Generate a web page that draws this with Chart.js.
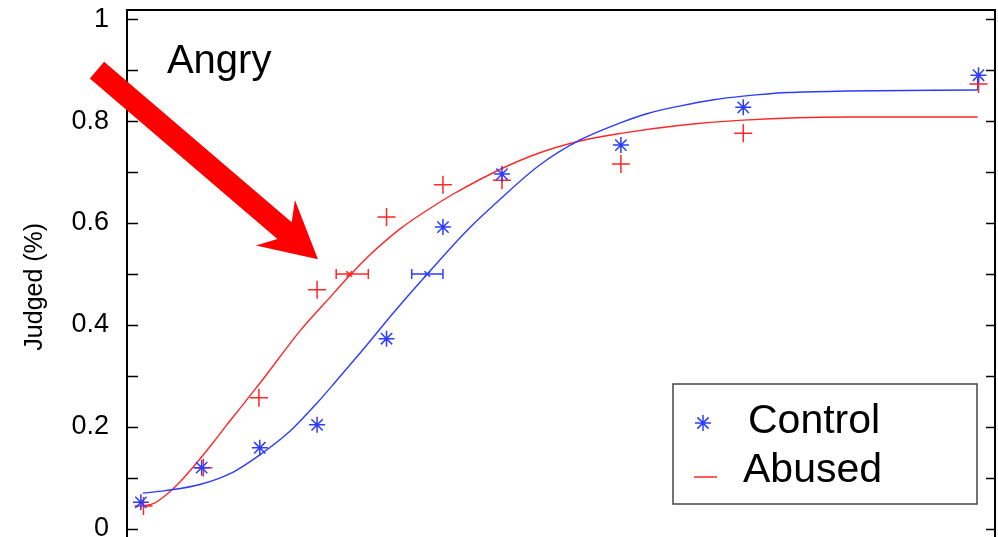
<!DOCTYPE html>
<html>
<head>
<meta charset="utf-8">
<title>Angry - Judged</title>
<script src="https://cdn.jsdelivr.net/npm/chart.js@4.4.1/dist/chart.umd.min.js"></script>
<style>
html,body{margin:0;padding:0;background:#fff;}
#wrap{width:998px;height:537px;}
</style>
</head>
<body>
<div id="wrap"><canvas id="c" width="998" height="537"></canvas></div>
<script>
// x is in arbitrary morph units (0..100 across the frame), y is proportion judged
var ctrlX = [1.6, 8.6, 15.3, 21.9, 29.9, 36.4, 43.2, 56.9, 71.0, 98.1];
var ctrlY = [0.052, 0.12, 0.159, 0.204, 0.373, 0.592, 0.696, 0.753, 0.827, 0.89];
var abusX = [1.9, 8.8, 15.2, 21.9, 29.9, 36.4, 43.2, 56.9, 71.0, 98.1];
var abusY = [0.045, 0.12, 0.257, 0.469, 0.612, 0.675, 0.684, 0.716, 0.776, 0.873];

// fitted curves
var ctrlFitX = [1.8, 4.4, 8.4, 12.3, 15.3, 18.8, 21.9, 24.2, 27.2, 30.7, 34.6, 39.2, 43.0, 47.4, 52.2, 56.9, 60.0, 63.8, 67.6, 71.0, 76.1, 83.0, 98.0];
var ctrlFitY = [0.07, 0.075, 0.087, 0.112, 0.145, 0.192, 0.247, 0.292, 0.352, 0.424, 0.5, 0.586, 0.647, 0.712, 0.763, 0.797, 0.815, 0.83, 0.842, 0.849, 0.856, 0.859, 0.861];
var abusFitX = [1.9, 3.1, 4.6, 6.1, 8.1, 10.0, 11.5, 13.0, 14.2, 15.6, 20.0, 23.8, 25.6, 27.7, 31.5, 35.3, 37.6, 43.2, 47.4, 52.2, 56.9, 63.8, 71.0, 83.0, 98.0];
var abusFitY = [0.045, 0.05, 0.068, 0.092, 0.131, 0.171, 0.204, 0.236, 0.262, 0.292, 0.39, 0.462, 0.496, 0.533, 0.589, 0.633, 0.657, 0.707, 0.737, 0.761, 0.776, 0.792, 0.802, 0.808, 0.808];
// little vertical step at the end of the control fit
var ctrlEndX = [98.0, 98.0];
var ctrlEndY = [0.861, 0.885];

// horizontal error bars at the 50% point (control, abused)
var errCenter = [34.6, 25.6];
var errLow = [32.8, 24.1];
var errHigh = [36.4, 27.8];
var errLevel = [0.5, 0.5];

var yTickValues = [0, 0.1, 0.2, 0.3, 0.4, 0.5, 0.6, 0.7, 0.8, 0.9, 1];
var yTickLabels = ['0', '', '0.2', '', '0.4', '', '0.6', '', '0.8', '', '1'];
var yTitle = 'Judged (%)';

// arrow from tail to tip, and the panel label, in data units
var arrowTail = [-3.46, 0.9];
var arrowTip = [22.0, 0.529];
var panelLabel = 'Angry';
var panelPos = [4.6, 0.894];

var BLUE = '#2b3cff';
var RED = '#ff2626';
var FONT = '"Liberation Sans", Arial, sans-serif';

function pts(xs, ys){
  var out = [];
  for (var i = 0; i < xs.length; i++) out.push({x: xs[i], y: ys[i]});
  return out;
}

var extras = {
  id: 'extras',
  afterDatasetsDraw: function(chart){
    var ctx = chart.ctx, xs = chart.scales.x, ys = chart.scales.y;
    var cols = [BLUE, RED];
    ctx.save();
    ctx.lineWidth = 1.5;
    for (var i = 0; i < errCenter.length; i++){
      var py = ys.getPixelForValue(errLevel[i]);
      var x1 = xs.getPixelForValue(errLow[i]), x2 = xs.getPixelForValue(errHigh[i]);
      ctx.strokeStyle = cols[i];
      ctx.beginPath();
      ctx.moveTo(x1, py); ctx.lineTo(x2, py);
      ctx.moveTo(x1, py - 5); ctx.lineTo(x1, py + 5);
      ctx.moveTo(x2, py - 5); ctx.lineTo(x2, py + 5);
      ctx.stroke();
    }
    ctx.restore();
  },
  afterDraw: function(chart){
    var ctx = chart.ctx, a = chart.chartArea, xs = chart.scales.x, ys = chart.scales.y;
    ctx.save();
    // frame top and right
    ctx.strokeStyle = '#000';
    ctx.lineWidth = 2;
    ctx.beginPath();
    ctx.moveTo(a.left, a.top); ctx.lineTo(a.right, a.top); ctx.lineTo(a.right, a.bottom);
    ctx.stroke();
    // inward ticks on both sides
    ctx.lineWidth = 1.6;
    ys.ticks.forEach(function(t){
      var py = Math.round(ys.getPixelForValue(t.value)) + 0.5;
      ctx.beginPath();
      ctx.moveTo(a.left, py); ctx.lineTo(a.left + 11, py);
      ctx.moveTo(a.right, py); ctx.lineTo(a.right - 9, py);
      ctx.stroke();
    });

    // y title (the full axis runs past the bottom of the picture, so centre it lower)
    ctx.save();
    ctx.translate(35, ys.getPixelForValue(0.475));
    ctx.rotate(-Math.PI / 2);
    ctx.fillStyle = '#000';
    ctx.font = '25px ' + FONT;
    ctx.textAlign = 'center';
    ctx.textBaseline = 'middle';
    ctx.fillText(yTitle, 0, 0);
    ctx.restore();

    // panel label
    ctx.fillStyle = '#000';
    ctx.font = '40px ' + FONT;
    ctx.textBaseline = 'alphabetic';
    ctx.fillText(panelLabel, xs.getPixelForValue(panelPos[0]), ys.getPixelForValue(panelPos[1]));

    // big red arrow
    var tx = xs.getPixelForValue(arrowTail[0]), ty = ys.getPixelForValue(arrowTail[1]);
    var hx = xs.getPixelForValue(arrowTip[0]), hy = ys.getPixelForValue(arrowTip[1]);
    var len = Math.hypot(hx - tx, hy - ty);
    var ux = (hx - tx) / len, uy = (hy - ty) / len;
    var nx = -uy, ny = ux;
    var sw = 11, headLen = 56, headW = 30, notch = 44;
    function P(t, s){ return [tx + ux * t + nx * s, ty + uy * t + ny * s]; }
    var poly = [P(0, -sw), P(len - notch, -sw), P(len - headLen, -headW), P(len, 0),
                P(len - headLen, headW), P(len - notch, sw), P(0, sw)];
    ctx.fillStyle = '#ff0000';
    ctx.beginPath();
    ctx.moveTo(poly[0][0], poly[0][1]);
    for (var i = 1; i < poly.length; i++) ctx.lineTo(poly[i][0], poly[i][1]);
    ctx.closePath();
    ctx.fill();

    // legend box
    var lx = 673, ly = 384, lw = 304, lh = 120;
    ctx.fillStyle = '#fff';
    ctx.fillRect(lx, ly, lw, lh);
    ctx.strokeStyle = '#444';
    ctx.lineWidth = 1.5;
    ctx.strokeRect(lx, ly, lw, lh);
    var ds = chart.data.datasets;
    var cx = lx + 30, cy = ly + 39, r = 8;
    ctx.strokeStyle = BLUE;
    ctx.lineWidth = 1.5;
    ctx.beginPath();
    ctx.moveTo(cx - r, cy); ctx.lineTo(cx + r, cy);
    ctx.moveTo(cx, cy - r); ctx.lineTo(cx, cy + r);
    ctx.moveTo(cx - r * 0.7, cy - r * 0.7); ctx.lineTo(cx + r * 0.7, cy + r * 0.7);
    ctx.moveTo(cx - r * 0.7, cy + r * 0.7); ctx.lineTo(cx + r * 0.7, cy - r * 0.7);
    ctx.stroke();
    ctx.strokeStyle = RED;
    ctx.beginPath();
    ctx.moveTo(lx + 21, ly + 93); ctx.lineTo(lx + 44, ly + 93);
    ctx.stroke();
    ctx.fillStyle = '#000';
    ctx.font = '41px ' + FONT;
    ctx.fillText(ds[0].label, lx + 75, ly + 49);
    ctx.fillText(ds[1].label, lx + 70, ly + 98);
    ctx.restore();
  }
};

new Chart(document.getElementById('c'), {
  type: 'scatter',
  data: {
    datasets: [
      {label: 'Control', data: pts(ctrlX, ctrlY), pointStyle: 'star', radius: 8, borderColor: BLUE, backgroundColor: BLUE, borderWidth: 1.5, order: 1},
      {label: 'Abused', data: pts(abusX, abusY), pointStyle: 'cross', radius: 9, borderColor: RED, backgroundColor: RED, borderWidth: 1.5, order: 1},
      {label: 'Control fit', type: 'line', data: pts(ctrlFitX, ctrlFitY), borderColor: BLUE, borderWidth: 1.4, pointRadius: 0, cubicInterpolationMode: 'monotone', fill: false, order: 2},
      {label: 'Control end', type: 'line', data: pts(ctrlEndX, ctrlEndY), borderColor: BLUE, borderWidth: 1.4, pointRadius: 0, fill: false, order: 2},
      {label: 'Abused fit', type: 'line', data: pts(abusFitX, abusFitY), borderColor: RED, borderWidth: 1.4, pointRadius: 0, cubicInterpolationMode: 'monotone', fill: false, order: 2},
      {label: 'Control 50%', data: pts([errCenter[0]], [errLevel[0]]), pointStyle: 'crossRot', radius: 4, borderColor: BLUE, borderWidth: 1.5, order: 1},
      {label: 'Abused 50%', data: pts([errCenter[1]], [errLevel[1]]), pointStyle: 'crossRot', radius: 4, borderColor: RED, borderWidth: 1.5, order: 1}
    ]
  },
  options: {
    responsive: false,
    animation: false,
    layout: {autoPadding: false, padding: {top: 10, right: 3, left: 0, bottom: 0}},
    plugins: {legend: {display: false}, tooltip: {enabled: false}},
    scales: {
      x: {type: 'linear', min: 0, max: 100, display: false},
      y: {
        type: 'linear', min: -0.016, max: 1.018,
        afterBuildTicks: function(s){ s.ticks = yTickValues.map(function(v){ return {value: v}; }); },
        afterFit: function(s){ s.width = 127; s.paddingTop = 0; s.paddingBottom = 0; },
        grid: {drawOnChartArea: false, drawTicks: false},
        border: {display: true, color: '#000', width: 2},
        ticks: {
          padding: 18, color: '#000', font: {family: FONT, size: 27},
          callback: function(v, i){ return yTickLabels[i]; }
        },
        title: {display: false}
      }
    }
  },
  plugins: [extras]
});
</script>
</body>
</html>
